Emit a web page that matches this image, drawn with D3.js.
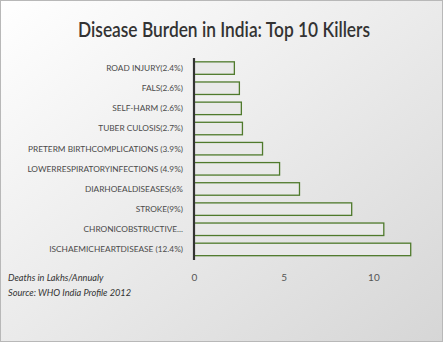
<!DOCTYPE html>
<html><head><meta charset="utf-8">
<script src="https://cdn.jsdelivr.net/npm/d3@7"></script>
<style>html,body{margin:0;padding:0;background:#fff;}svg{display:block;}</style>
</head><body>
<script>
const categories = ["ROAD INJURY(2.4%)","FALS(2.6%)","SELF-HARM (2.6%)","TUBER CULOSIS(2.7%)","PRETERM BIRTHCOMPLICATIONS (3.9%)","LOWERRESPIRATORYINFECTIONS  (4.9%)","DIARHOEALDISEASES(6%","STROKE(9%)","CHRONICOBSTRUCTIVE...","ISCHAEMICHEARTDISEASE  (12.4%)"];
const values = [2.25, 2.53, 2.64, 2.70, 3.82, 4.77, 5.88, 8.79, 10.58, 12.08];
const xTicks = [0, 5, 10];
const title = "Disease Burden in India: Top 10 Killers";
const notes = ["Deaths in Lakhs/Annualy", "Source: WHO India Profile 2012"];

const W = 444, H = 343;
const svg = d3.select("body").append("svg").attr("width", W).attr("height", H);
const defs = svg.append("defs");
const grad = defs.append("linearGradient").attr("id","bg").attr("x1","0").attr("y1","0").attr("x2","1").attr("y2","1");
grad.append("stop").attr("offset","0").attr("stop-color","#ffffff");
grad.append("stop").attr("offset","1").attr("stop-color","#d6d6d6");
svg.append("rect").attr("x",0.5).attr("y",0.5).attr("width",W-2).attr("height",H-2)
  .attr("fill","url(#bg)").attr("stroke","#b8b8b8").attr("stroke-width",1);

svg.append("text").attr("x",224).attr("y",37).attr("text-anchor","middle")
  .attr("font-family","Lato, 'Open Sans', sans-serif").attr("font-size",20.5).attr("font-weight",600).attr("fill","#333")
  .attr("textLength",292).attr("lengthAdjust","spacingAndGlyphs").text(title);

const x = d3.scaleLinear().domain([0, 5]).range([194, 283.7]);
const y = d3.scaleBand().domain(categories).range([58, 259.5]).paddingInner(0.38).paddingOuter(0.19);

const g = svg.append("g");
g.selectAll("rect.bar").data(values).join("rect").attr("class","bar")
  .attr("x", x(0)).attr("y",(d,i)=>y(categories[i]))
  .attr("width", d=>x(d)-x(0)).attr("height", y.bandwidth())
  .attr("fill","#e9e9e9").attr("stroke","#4f7a2c").attr("stroke-width",1.3);

g.append("line").attr("x1",194).attr("x2",194).attr("y1",58).attr("y2",260)
  .attr("stroke","#333").attr("stroke-width",2.2);

const yAxis = d3.axisLeft(y).tickSize(0).tickPadding(11);
const ya = svg.append("g").attr("transform","translate(194,0)").call(yAxis);
ya.select(".domain").remove();
ya.selectAll("text").attr("font-family","Lato, 'Open Sans', sans-serif")
  .attr("font-size",8.3).attr("fill","#4a4a4a").attr("dy","0.35em");

const xAxis = d3.axisBottom(x).tickValues(xTicks).tickSize(0).tickPadding(0).tickFormat(d3.format("d"));
const xa = svg.append("g").attr("transform","translate(0,284)").call(xAxis);
xa.select(".domain").remove();
xa.selectAll("text").attr("font-family","Lato, 'Open Sans', sans-serif").attr("font-size",10)
  .attr("fill","#555").attr("dy","-0.3em");

svg.selectAll("text.note").data(notes).join("text").attr("class","note")
  .attr("x",8).attr("y",(d,i)=>281+i*14.5)
  .attr("font-family","Lato, 'Open Sans', sans-serif").attr("font-style","italic")
  .attr("font-size",9.2).attr("fill","#333").text(d=>d);
</script>
</body></html>
